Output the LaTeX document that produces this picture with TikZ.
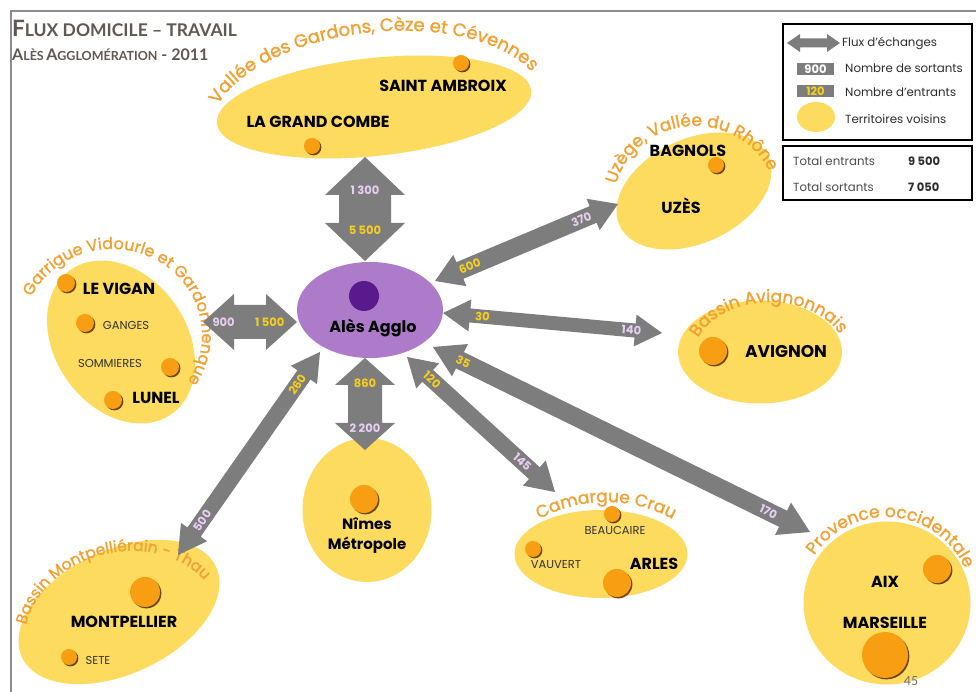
\documentclass[tikz,border=0pt]{standalone}
\usepackage{fontspec}
\setmainfont{Poppins}
\newfontfamily\titlefont{Lato}
\newfontfamily\pagefont{Carlito}
\newfontfamily\curvfont[FakeBold=1.2]{Poppins}
\usetikzlibrary{shapes.geometric,calc,decorations.text}
\definecolor{yel}{RGB}{252,219,95}
\definecolor{orgtxt}{RGB}{242,160,48}
\definecolor{dotorg}{RGB}{247,158,18}
\definecolor{dotsh}{RGB}{110,70,10}
\definecolor{purp}{RGB}{174,122,202}
\definecolor{dpurp}{RGB}{90,25,140}
\definecolor{agray}{RGB}{125,125,125}
\definecolor{lav}{RGB}{232,206,242}
\definecolor{ylab}{RGB}{246,206,30}
\definecolor{framec}{RGB}{140,140,140}
\definecolor{titlec}{RGB}{96,88,84}
\definecolor{legtxt}{RGB}{45,45,45}
% double block arrow: from, to, shaft half width, head half width, head length
\newcommand\dblarrow[5]{%
  \fill[agray] (#1) -- ($(#1)!#5pt!(#2)!#4pt!90:(#2)$) -- ($(#1)!#5pt!(#2)!#3pt!90:(#2)$)
   -- ($(#2)!#5pt!(#1)!#3pt!-90:(#1)$) -- ($(#2)!#5pt!(#1)!#4pt!-90:(#1)$) -- (#2)
   -- ($(#2)!#5pt!(#1)!#4pt!90:(#1)$) -- ($(#2)!#5pt!(#1)!#3pt!90:(#1)$)
   -- ($(#1)!#5pt!(#2)!#3pt!-90:(#2)$) -- ($(#1)!#5pt!(#2)!#4pt!-90:(#2)$) -- cycle;}
\newcommand\citydot[3]{%
  \fill[dotsh] (#1+1.4,692-#2-1.4) circle[radius=#3];
  \fill[dotorg] (#1,692-#2) circle[radius=#3];}
\begin{document}
\begin{tikzpicture}[x=1pt,y=1pt,
  region/.style={ellipse, fill=yel, inner sep=0pt, outer sep=0pt},
  city/.style={font=\fontsize{#1}{#1}\selectfont\bfseries, text=black, inner sep=0pt},
  city/.default=16,
  town/.style={font=\fontsize{11.5}{11.5}\selectfont, text=black!80, inner sep=0pt},
  numlab/.style={font=\fontsize{11.5}{11.5}\selectfont\bfseries, inner sep=0pt},
  outl/.style={numlab, text=lav},
  inl/.style={numlab, text=ylab},
  legtext/.style={font=\fontsize{11.8}{11.8}\selectfont, text=legtxt, anchor=west, inner sep=0pt},
  curv/.style 2 args={decorate, decoration={text along path, text align=center, text color=orgtxt, text={|\curvfont\fontsize{#1}{#1}\selectfont|#2}}},
]
\useasboundingbox (0,0) rectangle (976,692);
\fill[white] (0,0) rectangle (976,692);
\draw[framec, line width=1.5pt] (11,0) -- (11,681) -- (976,681);

% title
\node[anchor=base west, inner sep=0pt, text=titlec, font=\titlefont\bfseries] (title) at (12,692-37)
  {{\fontsize{22.5}{22}\selectfont F}{\fontsize{17.5}{17}\selectfont LUX DOMICILE – TRAVAIL}};
\node[anchor=base west, inner sep=0pt, text=titlec, font=\titlefont\bfseries] (subtitle) at (12,692-61)
  {{\fontsize{16}{16}\selectfont A}{\fontsize{12.5}{12.5}\selectfont LÈS} {\fontsize{16}{16}\selectfont A}{\fontsize{12.5}{12.5}\selectfont GGLOMÉRATION}{\fontsize{16}{16}\selectfont\ - 2011}};

% regions
\node[region, minimum width=316pt, minimum height=98pt, rotate=6] (vallee) at (374,692-107) {};
\node[region, minimum width=164pt, minimum height=104pt, rotate=25] (uzege) at (694,692-191) {};
\node[region, minimum width=164pt, minimum height=103pt] (avignonr) at (760,692-352) {};
\node[region, minimum width=176pt, minimum height=132pt, rotate=-55] (garrigue) at (121,692-342) {};
\node[region, minimum width=129pt, minimum height=144pt] (nimes) at (367,692-510) {};
\node[region, minimum width=214pt, minimum height=124pt, rotate=25] (montp) at (119,692-612) {};
\node[region, minimum width=173pt, minimum height=88pt] (camargue) at (601,692-554) {};
\node[region, minimum width=167pt, minimum height=163pt] (provence) at (887,692-603) {};
\node[ellipse, fill=purp, inner sep=0pt, minimum width=146pt, minimum height=96pt] (ales) at (370,692-310) {};
\fill[dpurp] (364,692-296) circle[radius=15];
\node[city=16] (alesl) at (373,692-328) {Alès Agglo};

% curved region names
\path[rotate around={6:(378,574)}, curv={18}{Vallée des Gardons, Cèze et Cévennes}] (378,574) ++(200:168 and 86) arc[start angle=200, end angle=-20, x radius=168, y radius=86];
\path[curv={17}{Uzège, Vallée du Rhône}] (695,490) ++(215:81 and 76) arc[start angle=215, end angle=-25, x radius=81, y radius=76];
\path[curv={17}{Bassin Avignonnais}] (770,332) ++(200:78 and 58) arc[start angle=200, end angle=-16, x radius=78, y radius=58];
\path[curv={16}{Garrigue Vidourle et Gardonnenque}] (112,357) ++(195:90 and 86) arc[start angle=195, end angle=-73, x radius=90, y radius=86];
\path[rotate around={14:(123,58)}, curv={15.5}{Bassin Montpelliérain - Thau}] (123,58) ++(215:100 and 82) arc[start angle=215, end angle=-35, x radius=100, y radius=82];
\path[curv={17}{Camargue Crau}] (606,52) ++(125:138 and 138) arc[start angle=125, end angle=55, radius=138];
\path[curv={17}{Provence occidentale}] (886,89) ++(205:86 and 86) arc[start angle=205, end angle=-35, radius=86];

% dots and city names
\citydot{461}{63}{8}
\citydot{312}{146}{8}
\node[city] (stamb) at (443,692-86) {SAINT AMBROIX};
\node[city] (lgc) at (318,692-122) {LA GRAND COMBE};
\citydot{716}{165}{8}
\node[city] (bagnols) at (688,692-151) {BAGNOLS};
\node[city] (uzes) at (681,692-206) {UZÈS};
\citydot{713}{351}{14}
\node[city=17] (avignon) at (786,692-352) {AVIGNON};
\citydot{66}{283}{9}
\node[city] (vigan) at (119,692-289) {LE VIGAN};
\citydot{85}{323}{9}
\node[town] (ganges) at (126,692-325) {GANGES};
\node[town] (sommieres) at (110,692-363) {SOMMIERES};
\citydot{170}{367}{9}
\citydot{113}{400}{9}
\node[city] (lunel) at (156,692-398) {LUNEL};
\citydot{364}{499}{14}
\node[city=15] (nimesl) at (367,692-524) {Nîmes};
\node[city=15] (metro) at (367,692-545) {Métropole};
\citydot{145}{592}{15}
\node[city] (montpl) at (124,692-622) {MONTPELLIER};
\citydot{69}{657}{8}
\node[town] (sete) at (98,692-660) {SETE};
\citydot{612}{514}{8}
\node[town] (beaucaire) at (615,692-530) {BEAUCAIRE};
\citydot{533}{549}{8}
\node[town] (vauvert) at (556,692-565) {VAUVERT};
\citydot{617}{583}{14}
\node[city] (arles) at (654,692-564) {ARLES};
\citydot{937}{569}{14}
\citydot{885}{655}{23}
\node[city] (aix) at (885,692-582) {AIX};
\node[city] (marseille) at (885,692-623) {MARSEILLE};

% arrow end points
\coordinate (tA) at (365,692-157); \coordinate (tB) at (365,692-261);
\coordinate (lA) at (203,692-322); \coordinate (lB) at (297,692-322);
\coordinate (bA) at (365,692-358); \coordinate (bB) at (365,692-450);
\coordinate (mA) at (320,692-352); \coordinate (mB) at (178,692-555);
\coordinate (gA) at (435,692-281); \coordinate (gB) at (618,692-204);
\coordinate (vA) at (443,692-313); \coordinate (vB) at (662,692-333);
\coordinate (rA) at (407,692-357); \coordinate (rB) at (555,692-492);
\coordinate (pA) at (433,692-347); \coordinate (pB) at (810,692-532);

\dblarrow{tA}{tB}{26}{40}{38}
\dblarrow{lA}{lB}{17}{28}{31}
\dblarrow{bA}{bB}{17}{30}{27}
\dblarrow{mA}{mB}{8}{16}{28}
\dblarrow{gA}{gB}{9}{17}{27}
\dblarrow{vA}{vB}{7}{16}{27}
\dblarrow{rA}{rB}{8}{17}{28}
\dblarrow{pA}{pB}{9}{18}{30}

% arrow labels
\path (tA) -- (tB) node[outl, pos=0.32] (n1300) {1 300} node[inl, pos=0.70] (n5500) {5 500};
\path (lA) -- (lB) node[outl, pos=0.22] (n900) {900} node[inl, pos=0.71] (n1500) {1 500};
\path (bA) -- (bB) node[inl, pos=0.27] (n860) {860} node[outl, pos=0.76] (n2200) {2 200};
\path (mA) -- (mB) node[inl, pos=0.16, sloped] (n260) {260} node[outl, pos=0.83, sloped] (n500) {500};
\path (gA) -- (gB) node[inl, pos=0.19, sloped] (n600) {600} node[outl, pos=0.80, sloped] (n370) {370};
\path (vA) -- (vB) node[inl, pos=0.18, sloped] (n30) {30} node[outl, pos=0.86, sloped] (n140) {140};
\path (rA) -- (rB) node[inl, pos=0.17, sloped] (n120) {120} node[outl, pos=0.78, sloped] (n145) {145};
\path (pA) -- (pB) node[inl, pos=0.08, sloped] (n35) {35} node[outl, pos=0.89, sloped] (n170) {170};

% legend
\draw[black, line width=1.6pt] (783,692-24) rectangle (972,692-140);
\coordinate (legA) at (787,692-43); \coordinate (legB) at (840,692-43);
\dblarrow{legA}{legB}{4.5}{9}{13}
\node[legtext] (legflux) at (842,692-43) {Flux d’échanges};
\node[fill=agray, minimum width=37pt, minimum height=12pt, numlab, text=white] (leg900) at (815.5,692-69) {900};
\node[legtext] (legsort) at (845,692-68) {Nombre de sortants};
\node[fill=agray, minimum width=37pt, minimum height=12pt, numlab, text=ylab] (leg120) at (815.5,692-91.5) {120};
\node[legtext] (legent) at (845,692-92) {Nombre d’entrants};
\node[region, minimum width=38pt, minimum height=30pt] (legyel) at (816,692-117) {};
\node[legtext] (legterr) at (845,692-119) {Territoires voisins};
\draw[black, line width=1.6pt] (783,692-146) rectangle (972,692-200);
\node[legtext, text=black!70] (totin) at (793,692-161) {Total entrants};
\node[legtext, font=\fontsize{11.5}{11.5}\selectfont\bfseries] (totinv) at (908,692-161) {9 500};
\node[legtext, text=black!70] (totout) at (793,692-187) {Total sortants};
\node[legtext, font=\fontsize{11.5}{11.5}\selectfont\bfseries] (totoutv) at (908,692-187) {7 050};

% page number
\node[inner sep=0pt, text=black!55, font=\pagefont\fontsize{14}{14}\selectfont] (page) at (911,692-681) {45};
\end{tikzpicture}
\end{document}
